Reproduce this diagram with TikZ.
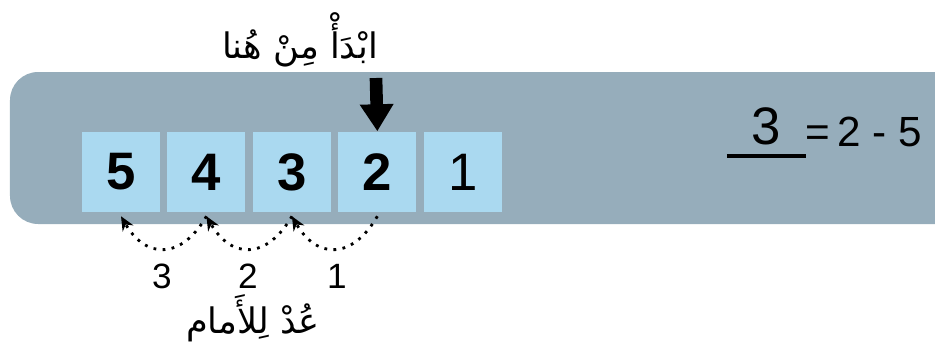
\documentclass[tikz,border=0pt]{standalone}
\usepackage{fontspec}
\setmainfont{Liberation Sans}
\newfontfamily\arabicfont[Script=Arabic]{DejaVu Sans}
\TeXXeTstate=1
\usetikzlibrary{positioning,arrows.meta}
\definecolor{bandgray}{RGB}{150,173,187}
\definecolor{cellblue}{RGB}{170,217,240}

\begin{document}
\begin{tikzpicture}[x=0.01cm,y=-0.01cm,
      cell/.style={fill=cellblue, minimum width=0.78cm, minimum height=0.80cm, inner sep=0pt,
                   font=\fontsize{15}{15}\selectfont\bfseries},
      hop/.style={line width=0.8pt, dash pattern=on 0.8pt off 1.8pt, -{Stealth[length=4pt,width=3.5pt]},
                  out=-120, in=-60, looseness=1.5},
      count/.style={font=\fontsize{10}{10}\selectfont},
      arlabel/.style={font=\arabicfont\fontsize{10}{10}\selectfont}]
    \useasboundingbox (0,0) rectangle (935,357);
    % the band
    \fill[bandgray] (935,72) [rounded corners=8] -- (10,72) -- (10,224) [sharp corners] -- (935,224) -- cycle;
    % number line
    \node[cell] (c5) at (121,172) {5};
    \node[cell, right=0.06cm of c5] (c4) {4};
    \node[cell, right=0.06cm of c4] (c3) {3};
    \node[cell, right=0.06cm of c3] (c2) {2};
    \node[cell, right=0.06cm of c2] (c1) {\mdseries 1};
    % start here
    \node[arlabel] (start) at (300,40) {\beginR ابْدَأْ مِنْ هُنا\endR};
    \coordinate (top) at (376,78);
    \draw[line width=3.6pt, -{Triangle[width=0.32cm,length=0.27cm]}] (top) -- (c2.north);
    % hops back
    \draw[hop] ([yshift=-1pt]c2.south) to ([yshift=-1pt]c3.south);
    \draw[hop] ([yshift=-1pt]c3.south) to ([yshift=-1pt]c4.south);
    \draw[hop] ([yshift=-1pt]c4.south) to ([yshift=-1pt]c5.south);
    \node[count] (h1) at (337,276) {1};
    \node[count] (h2) at (248,276) {2};
    \node[count] (h3) at (162,276) {3};
    \node[arlabel] (back) at (253,318) {\beginR عُدْ لِلأَمام\endR};
    % answer
    \node[font=\fontsize{15}{15}\selectfont] (ans) at (766,126) {3};
    \node[anchor=west, font=\fontsize{12}{12}\selectfont] (eq) at (793,132) {=\,2 - 5};
    \coordinate (u1) at (727,156);
    \coordinate (u2) at (806,156);
    \draw[line width=1pt] (u1) -- (u2);
\end{tikzpicture}
\end{document}
